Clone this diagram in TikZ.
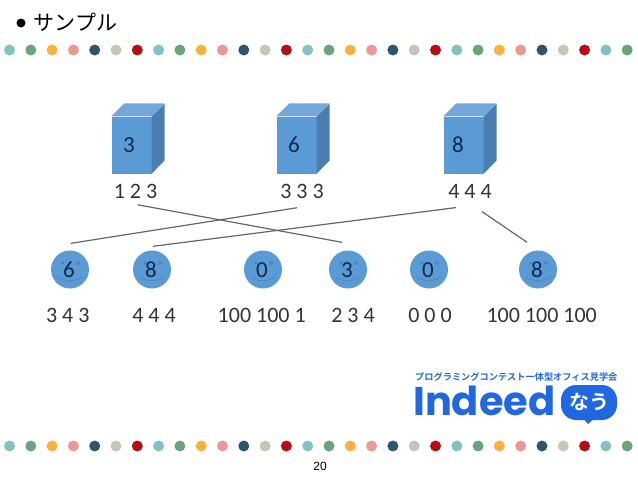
\documentclass[tikz,border=0pt]{standalone}
\usepackage{fontspec}
\setmainfont{Carlito}
\newfontfamily\jpfont{Noto Sans CJK JP}
\newfontfamily\jpbold[BoldFont={Noto Sans CJK JP Bold}]{Noto Sans CJK JP}
\newfontfamily\logofont{Poppins}
\newfontfamily\pagefont{Liberation Sans}
\usetikzlibrary{positioning,calc}
\definecolor{dotTeal}{HTML}{83C1C5}
\definecolor{dotGreen}{HTML}{69A47C}
\definecolor{dotOrange}{HTML}{FBB040}
\definecolor{dotPink}{HTML}{EE9893}
\definecolor{dotNavy}{HTML}{2C566E}
\definecolor{dotSand}{HTML}{CBC4B6}
\definecolor{dotRed}{HTML}{B50F14}
\definecolor{boxFront}{HTML}{5B9BD5}
\definecolor{boxTop}{HTML}{74A7DB}
\definecolor{boxSide}{HTML}{4A7EB0}
\definecolor{digitInk}{HTML}{0C2A4E}
\definecolor{logoBlue}{HTML}{2167E0}
\tikzset{
  front/.style={fill=boxFront, draw=none, inner sep=0pt, minimum width=40pt, minimum height=57pt},
  valtext/.style={text=digitInk, font=\fontsize{23}{25}\selectfont},
  rowtext/.style={text=black!80, font=\fontsize{22}{24}\selectfont},
  ball/.style={circle, fill=boxFront, draw=none, inner sep=0pt, minimum size=38pt},
  link/.style={draw=black!60, line width=1.2pt},
}
\begin{document}
\begin{tikzpicture}[x=1pt, y=-1pt]
    \useasboundingbox (0,0) rectangle (638,479);

    % Title
    \fill[black] (21,23) circle (4.5);
    \node[anchor=west, inner sep=0pt, font=\jpfont\fontsize{21}{24}\selectfont] (title) at (33.5,22) {サンプル};

    % Rows of dots
    \foreach \y in {50,446}
        \foreach \i/\c in {0/dotTeal,1/dotGreen,2/dotOrange,3/dotPink,4/dotNavy,5/dotSand,6/dotRed,
                           7/dotTeal,8/dotGreen,9/dotOrange,10/dotPink,11/dotNavy,12/dotSand,13/dotRed,
                           14/dotTeal,15/dotGreen,16/dotOrange,17/dotPink,18/dotNavy,19/dotSand,20/dotRed,
                           21/dotTeal,22/dotGreen,23/dotOrange,24/dotPink,25/dotNavy,26/dotSand,27/dotRed,
                           28/dotTeal,29/dotGreen}
            \fill[\c] ({9.5+21.3*\i},\y) circle (5.5);

    % Boxes
    \foreach \n/\x/\v/\t/\lx in {A/131.5/3/1 2 3/135.5, B/296.5/6/3 3 3/302, C/463.5/8/4 4 4/470} {
        \node[front] (box\n) at (\x,145) {};
        \fill[boxTop] (box\n.north west) -- ++(13,-13) -- ++(40,0) -- (box\n.north east) -- cycle;
        \fill[boxSide] (box\n.north east) -- ++(13,-13) -- ++(0,57) -- (box\n.south east) -- cycle;
        \node[valtext] (val\n) at ({\x-2.5-(\x==463.5)*3},145) {\v};
        \node[rowtext] (lbl\n) at (\lx,191) {\t};
    }

    % Balls
    \foreach \n/\x/\v/\t/\lx in {P/70/6/3 4 3/67.7, Q/152/8/4 4 4/154, R/263/0/100 100 1/261.7,
                                 S/348/3/2 3 4/353, T/429/0/0 0 0/430, U/538/8/100 100 100/541.7} {
        \node[ball] (ball\n) at (\x,269.5) {};
        \fill[boxSide] (\x-7,263) circle (1.6);
        \fill[boxSide!70!boxFront] (\x+8,263) circle (2);
        \draw[boxSide, line width=0.5pt] (\x-12,277) .. controls (\x-5,282) and (\x+5,282) .. (\x+12,277);
        \node[valtext] (val\n) at (\x-1,270) {\v};
        \node[rowtext] (lbl\n) at (\lx,315) {\t};
    }

    % Links
    \draw[link] ([xshift=2pt,yshift=-3pt]lblA.south) -- ([xshift=-6pt,yshift=8pt]ballS.north);
    \draw[link] ([xshift=-5pt,yshift=-6pt]lblB.south) -- ([xshift=1pt,yshift=7pt]ballP.north);
    \draw[link] ([xshift=-14pt,yshift=-6pt]lblC.south) -- ([xshift=1pt,yshift=4pt]ballQ.north);
    \draw[link] ([xshift=12pt,yshift=-10pt]lblC.south) -- ([xshift=-11pt,yshift=8pt]ballU.north);

    % Logo
    \node[anchor=west, inner sep=0pt, text=logoBlue, font=\jpbold\bfseries\fontsize{9.2}{11}\selectfont] (logoTop) at (415,376.5) {プログラミングコンテスト一体型オフィス見学会};
    \node[anchor=west, inner sep=0pt, text=logoBlue, font=\logofont\fontsize{40}{44}\selectfont\bfseries] (logoName) at (413,401) {Indeed};
    \fill[logoBlue, rounded corners=15pt] (561,385) rectangle (617,420);
    \fill[logoBlue] (582,417) -- (588,424) -- (596,417) -- cycle;
    \node[text=white, font=\jpbold\bfseries\fontsize{20}{22}\selectfont] (logoNow) at (589,402) {なう};

    % Page number
    \node[font=\pagefont\fontsize{12}{14}\selectfont] (pageNo) at (320,466) {20};
\end{tikzpicture}
\end{document}
